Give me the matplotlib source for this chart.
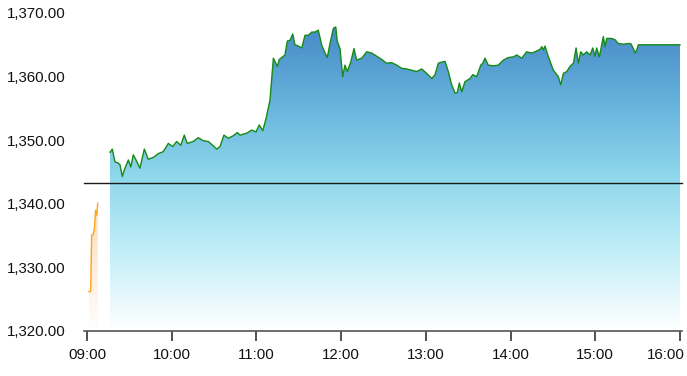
import matplotlib
matplotlib.use('Agg')
import matplotlib.pyplot as plt
import matplotlib.transforms as mtransforms
import numpy as np
from matplotlib.colors import LinearSegmentedColormap
from matplotlib.patches import Polygon
from matplotlib.ticker import FuncFormatter

# pre-market (minutes after 09:00, index value)
pre_minutes = [1.4, 2.6, 3.3, 4.5, 5.2, 6.1, 6.9, 7.6]
pre_values = [1326.2, 1326.2, 1335.1, 1335.2, 1336.0, 1339.0, 1338.2, 1340.1]

# trading session (minutes after 09:00, index value)
minutes = [
    16.3, 17.9, 19.8, 22.2, 23.4, 25.0, 26.9, 29.3, 31.0, 32.8, 34.7, 37.5, 40.6, 43.4,
    47.0, 50.5, 54.0, 57.6, 60.7, 63.5, 66.4, 68.9, 71.0, 75.3, 78.8, 82.4, 85.9, 89.5,
    91.9, 94.2, 97.0, 100.1, 103.6, 106.5, 108.4, 113.1, 116.7, 119.7, 122.0, 124.5, 126.8,
    129.6, 132.0, 134.8, 136.2, 140.2, 141.9, 143.8, 145.7, 147.3, 149.7, 152.1, 154.4,
    156.7, 159.2, 161.5, 163.8, 166.2, 168.6, 170.2, 172.1, 174.5, 176.2, 177.3, 179.2,
    181.1, 182.7, 184.4, 186.8, 189.1, 191.0, 194.6, 198.1, 201.7, 205.2, 208.7, 212.3,
    215.8, 219.4, 222.9, 226.4, 230.0, 233.5, 237.1, 240.6, 244.2, 246.5, 248.8, 250.0,
    253.6, 255.9, 258.3, 260.7, 262.3, 263.7, 265.4, 267.7, 271.3, 273.2, 276.0, 278.9,
    280.3, 281.9, 284.2, 287.8, 291.3, 294.9, 298.4, 302.0, 304.4, 307.9, 311.4, 315.0,
    317.3, 320.9, 322.1, 323.2, 324.4, 326.8, 330.3, 333.8, 335.5, 337.4, 339.8, 342.1,
    344.5, 346.4, 348.0, 349.7, 351.5, 353.9, 356.3, 358.2, 359.8, 361.0, 362.9, 364.6,
    365.7, 366.9, 368.1, 371.6, 374.0, 376.3, 379.9, 383.4, 385.1, 387.0, 388.2, 389.4,
    390.5, 420.0,
]
values = [
    1348.1, 1348.6, 1346.6, 1346.4, 1346.1, 1344.3, 1345.6, 1346.9, 1345.8, 1347.7, 1346.9,
    1345.6, 1348.6, 1347.0, 1347.3, 1347.9, 1348.2, 1349.5, 1349.0, 1349.8, 1349.2, 1350.8,
    1349.5, 1349.8, 1350.4, 1349.9, 1349.8, 1349.1, 1348.6, 1349.0, 1350.8, 1350.3, 1350.7,
    1351.2, 1350.8, 1351.1, 1351.6, 1351.3, 1352.4, 1351.5, 1353.4, 1356.3, 1362.9, 1361.6,
    1362.7, 1363.4, 1365.6, 1365.7, 1366.7, 1365.0, 1364.8, 1364.5, 1366.5, 1366.5, 1367.0,
    1367.0, 1367.3, 1365.0, 1363.7, 1363.0, 1365.2, 1367.6, 1367.8, 1365.5, 1364.4, 1360.0,
    1361.8, 1360.8, 1362.3, 1364.4, 1362.6, 1362.9, 1363.9, 1363.7, 1363.2, 1362.7, 1362.1,
    1362.2, 1361.8, 1361.3, 1361.2, 1361.0, 1360.8, 1361.2, 1360.5, 1359.7, 1360.3, 1362.1,
    1362.2, 1362.4, 1360.8, 1358.7, 1357.4, 1357.5, 1359.0, 1357.6, 1359.2, 1359.7, 1360.3,
    1360.0, 1361.8, 1362.1, 1362.9, 1361.8, 1361.7, 1361.8, 1362.6, 1363.0, 1363.1, 1363.4,
    1362.9, 1363.9, 1363.7, 1363.9, 1364.3, 1364.7, 1364.2, 1364.8, 1363.1, 1361.0, 1360.0,
    1358.7, 1360.5, 1360.8, 1361.6, 1362.1, 1364.5, 1362.1, 1363.9, 1363.4, 1363.9, 1363.4,
    1364.5, 1363.2, 1364.5, 1363.1, 1365.0, 1366.3, 1364.7, 1366.0, 1366.0, 1365.8, 1365.2,
    1365.1, 1365.2, 1365.2, 1364.4, 1363.7, 1364.2, 1365.0, 1365.0,
]

prev_close = 1343.3
y_ticks = [1320, 1330, 1340, 1350, 1360, 1370]
x_tick_labels = ['09:00', '10:00', '11:00', '12:00', '13:00', '14:00', '15:00', '16:00']

FONT = 'Liberation Sans'
TICK_SIZE = 10.8

blue_cmap = LinearSegmentedColormap.from_list(
    'blue_fade', [(0.0, '#ffffff'), (0.25, '#c4eff8'), (0.5, '#90d8ec'),
                  (0.75, '#66b2dc'), (1.0, '#4689c6')])
orange_cmap = LinearSegmentedColormap.from_list(
    'orange_fade', [(0.0, '#ffffff'), (1.0, '#fcdcb8')])


def gradient_fill(ax, x, y, base, top, cmap):
    verts = [(x[0], base)] + list(zip(x, y)) + [(x[-1], base)]
    poly = Polygon(verts, closed=True, facecolor='none', edgecolor='none')
    ax.add_patch(poly)
    grad = np.linspace(0, 1, 256).reshape(-1, 1)
    im = ax.imshow(grad, cmap=cmap, aspect='auto', origin='lower',
                   extent=[x[0], x[-1], base, top], zorder=1)
    im.set_clip_path(poly)


fig = plt.figure(figsize=(6.87, 3.76), dpi=100)
ax = fig.add_axes([84 / 687, 45 / 376, 598 / 687, 318 / 376])

gradient_fill(ax, pre_minutes, pre_values, 1320, max(pre_values), orange_cmap)
gradient_fill(ax, minutes, values, 1320, 1368, blue_cmap)

ax.plot(pre_minutes, pre_values, color='#ffa31a', lw=1.0, zorder=3)
ax.plot(minutes, values, color='#168a16', lw=1.0, zorder=3)
ax.axhline(prev_close, color='#1a1a1a', lw=1.0, zorder=4, clip_on=False)

px_per_min = 593 / 420
ax.set_xlim(-3 / px_per_min, 420 + 2 / px_per_min)
ax.set_ylim(1320, 1370)

ax.set_xticks([i * 60 for i in range(len(x_tick_labels))])
ax.set_xticklabels(x_tick_labels)
ax.set_yticks(y_ticks)
ax.yaxis.set_major_formatter(FuncFormatter(lambda v, p: '{:,.2f}'.format(v)))

for side in ['top', 'right', 'left']:
    ax.spines[side].set_visible(False)
ax.spines['bottom'].set_color('#555555')
ax.spines['bottom'].set_linewidth(1.2)
ax.spines['bottom'].set_zorder(5)

ax.tick_params(axis='x', length=7, width=1.2, color='#333333', pad=5,
               labelsize=TICK_SIZE, labelcolor='#111111')
ax.tick_params(axis='y', length=0, pad=13, labelsize=TICK_SIZE, labelcolor='#111111')
for lab in ax.get_xticklabels() + ax.get_yticklabels():
    lab.set_family(FONT)

# last time label is pulled left so it stays inside the picture
last = ax.get_xticklabels()[-1]
last.set_transform(last.get_transform() +
                   mtransforms.ScaledTranslation(-14 / 100, 0, fig.dpi_scale_trans))

fig.savefig('out.png', dpi=100)
